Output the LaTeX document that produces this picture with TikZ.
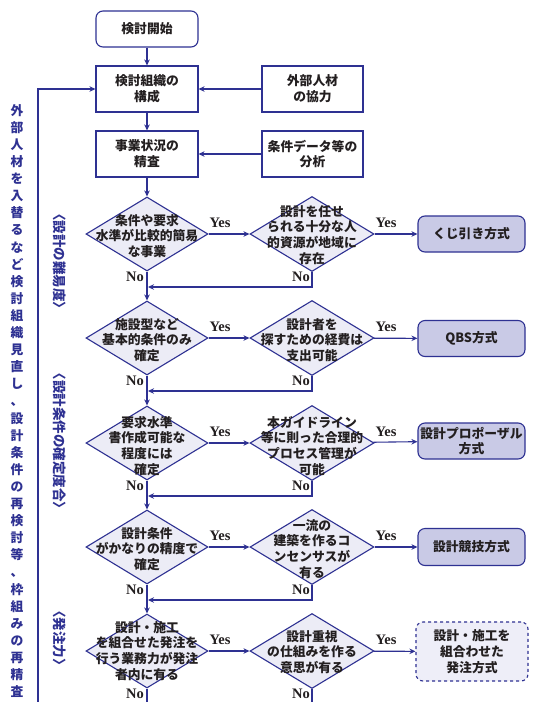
\documentclass[tikz,border=0pt]{standalone}
\usepackage{fontspec}
\setmainfont{Noto Sans CJK JP}
\newfontfamily\yesfont{Liberation Serif}
\usetikzlibrary{shapes.geometric,arrows.meta,calc}
\definecolor{navy}{HTML}{2E3192}
\definecolor{dfill}{HTML}{ECECF6}
\definecolor{rfill}{HTML}{C9CAE6}
\definecolor{ffill}{HTML}{EEEEF8}
\definecolor{ink}{HTML}{231F20}
\tikzset{
  ln/.style={draw=navy, line width=1.1pt},
  arr/.style={ln, -{Stealth[length=6pt,width=5.5pt]}},
  jp/.style={font=\bfseries\fontsize{12.8}{15.8}\selectfont, text=ink},
  box/.style={ln, jp, fill=white, minimum width=102pt, minimum height=46pt, align=center, inner sep=0pt},
  startbox/.style={box, rounded corners=7pt, minimum height=36pt},
  dia/.style={diamond, ln, fill=dfill, minimum width=122pt, minimum height=74pt, inner sep=0pt},
  dia2/.style={dia, minimum width=124pt, minimum height=75pt},
  dtext/.style={jp, align=center, inner sep=0pt},
  result/.style={ln, jp, fill=rfill, rounded corners=7pt, minimum width=107pt, minimum height=36pt, align=center, inner sep=0pt},
  final/.style={result, fill=ffill, dashed, minimum width=112pt, minimum height=59pt},
  yn/.style={font=\yesfont\bfseries\fontsize{14.5}{15}\selectfont, text=ink, inner sep=0pt},
  side/.style={font=\bfseries\fontsize{13.5}{14}\selectfont, text=navy, inner sep=0pt},
  vcol/.style={font=\bfseries\fontsize{12.8}{17.1}\selectfont, text=navy, align=center, inner sep=0pt},
}
\begin{document}
\begin{tikzpicture}[x=1pt,y=-1pt]
\useasboundingbox[fill=white] (0,0) rectangle (536,702);

% top boxes
\node[startbox] (start) at (147,29) {検討開始};
\node[box] (org) at (147,89) {検討組織の\\構成};
\node[box, minimum width=101pt] (ext) at (312.5,89) {外部人材\\の協力};
\node[box] (sit) at (147,154) {事業状況の\\精査};
\node[box, minimum width=101pt] (data) at (312.5,154) {条件データ等の\\分析};

% diamonds
\node[dia] (d1) at (147,234) {};
\node[dia2] (d2) at (312,234) {};
\node[dia] (d3) at (147,338) {};
\node[dia2] (d4) at (312,338) {};
\node[dia] (d5) at (147,443) {};
\node[dia2] (d6) at (312,443) {};
\node[dia] (d7) at (147,547) {};
\node[dia2] (d8) at (312,547) {};
\node[dia] (d9) at (147,651) {};
\node[dia2] (d10) at (312,651) {};

\node[dtext] (t1) at (147,236) {条件や要求\\水準が比較的簡易\\な事業};
\node[dtext] (t2) at (312,235) {設計を任せ\\られる十分な人\\的資源が地域に\\存在};
\node[dtext] (t3) at (147,340) {施設型など\\基本的条件のみ\\確定};
\node[dtext] (t4) at (312,340) {設計者を\\探すための経費は\\支出可能};
\node[dtext] (t5) at (147,446) {要求水準\\書作成可能な\\程度には\\確定};
\node[dtext] (t6) at (312,446) {本ガイドライン\\等に則った合理的\\プロセス管理が\\可能};
\node[dtext] (t7) at (147,549) {設計条件\\がかなりの精度で\\確定};
\node[dtext] (t8) at (312,549) {一流の\\建築を作るコ\\ンセンサスが\\有る};
\node[dtext] (t9) at (147,651) {設計・施工\\を組合せた発注を\\行う業務力が発注\\者内に有る};
\node[dtext] (t10) at (312,652) {設計重視\\の仕組みを作る\\意思が有る};

% results
\node[result] (r1) at (471.5,234) {くじ引き方式};
\node[result] (r2) at (471.5,338.5) {QBS方式};
\node[result] (r3) at (471.5,441) {設計プロポーザル\\方式};
\node[result, minimum height=37pt] (r4) at (471.5,547) {設計競技方式};
\node[final] (r5) at (472,651.5) {設計・施工を\\組合わせた\\発注方式};

% main flow
\draw[arr] (start) -- (org);
\draw[arr] (org) -- (sit);
\draw[arr] (ext) -- (org);
\draw[arr] (data) -- (sit);
\draw[arr] (sit) -- (d1);
\draw[arr] (d1) -- (d3);
\draw[arr] (d3) -- (d5);
\draw[arr] (d5) -- (d7);
\draw[arr] (d7) -- (d9);

% yes arrows
\draw[arr] (d1) -- (d2);
\draw[arr] (d2) -- (r1);
\draw[arr] (d3) -- (d4);
\draw[arr] (d4) -- (r2);
\draw[arr] (d5) -- (d6);
\draw[arr] (d6) -- (r3);
\draw[arr] (d7) -- (d8);
\draw[arr] (d8) -- (r4);
\draw[arr] (d9) -- (d10);
\draw[arr] (d10) -- (r5);

% return lines
\coordinate (j1) at (148,287);
\coordinate (j2) at (148,391);
\coordinate (j3) at (148,496);
\coordinate (j4) at (148,600);
\draw[arr] (d2.south) |- (j1);
\draw[arr] (d4.south) |- (j2);
\draw[arr] (d6.south) |- (j3);
\draw[arr] (d8.south) |- (j4);

% bottom continuations
\coordinate (e9) at (147,702);
\coordinate (e10) at (312,702);
\draw[ln] (d9.south) -- (e9);
\draw[ln] (d10.south) -- (e10);

% left feedback loop
\coordinate (lb) at (38,702);
\draw[arr] (lb) |- (org.west);

% Yes / No labels
\foreach \y/\n in {223/a,327/b,432/c,536/d,640/e}{
  \node[yn] (ya\n) at (220,\y) {Yes};
  \node[yn] (yb\n) at (386,\y) {Yes};
}
\foreach \y/\n in {277/a,381/b,486/c,590/d,694/e}{
  \node[yn, anchor=east] (na\n) at (144,\y) {No};
  \node[yn, anchor=east] (nb\n) at (310,\y) {No};
}

% side labels
\node[side, rotate=-90] (s1) at (60,261) {〈設計の難易度〉};
\node[side, rotate=-90] (s2) at (60,441) {〈設計条件の確定度合〉};
\node[side, rotate=-90] (s3) at (60,638) {〈発注力〉};

% left vertical text
\node[vcol] (vt) at (17,401) {外\\部\\人\\材\\を\\入\\替\\る\\な\\ど\\検\\討\\組\\織\\見\\直\\し\\、\\設\\計\\条\\件\\の\\再\\検\\討\\等\\、\\枠\\組\\み\\の\\再\\精\\査};
\end{tikzpicture}
\end{document}
